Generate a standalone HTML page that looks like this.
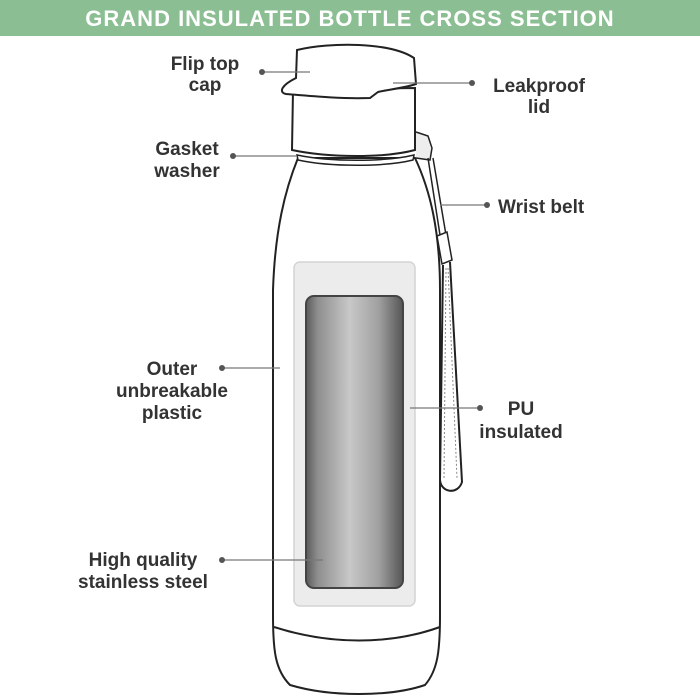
<!DOCTYPE html>
<html><head><meta charset="utf-8"><style>
body{margin:0;background:#fff}
svg{display:block}
text{font-family:"Liberation Sans",sans-serif;font-weight:bold;fill:#333;font-size:19px}
</style></head><body>
<svg width="700" height="700" viewBox="0 0 700 700">
<defs>
<linearGradient id="st" x1="0" x2="1">
<stop offset="0" stop-color="#5a5a5a"/><stop offset="0.12" stop-color="#8e8e8e"/><stop offset="0.45" stop-color="#c8c8c8"/><stop offset="0.75" stop-color="#a0a0a0"/><stop offset="1" stop-color="#555"/>
</linearGradient>
</defs>
<rect x="0" y="0" width="700" height="36" fill="#8bbf93"/>
<text x="350" y="26" text-anchor="middle" style="fill:#fff;font-size:22px;letter-spacing:1px">GRAND INSULATED BOTTLE CROSS SECTION</text>

<g fill="none" stroke="#222" stroke-width="2">
<path d="M298 158 C285 190 275 230 273 290 L273 615 C273 650 275 670 290 685 C330 697 390 697 425 685 C438 670 440 650 440 615 L440 290 C440 230 430 190 415 158 Z" fill="#fff"/>
<path d="M274 627 C330 645 390 645 440 627"/>
<path d="M297 155 C330 162 385 162 414 155 L413 160 C385 167 330 167 298 160 Z" fill="#fff" stroke-width="1.5"/>
<path d="M293 90 L292 150 C330 158 385 158 415 150 L415 88 Z" fill="#fff"/>
<path d="M297 50 C330 42 390 42 414 58 L416 84 C405 88 385 90 378 92 L370 98 C340 99 310 96 286 94 C278 92 282 85 296 78 Z" fill="#fff"/>
<path d="M416 132 L428 136 L432 148 L430 160 L416 158" fill="#eee" stroke-width="1.5"/>
<path d="M428 158 L440 235 M433 158 L446 235" stroke-width="1.5"/>
<path d="M437 236 L447 232 L452 260 L442 264 Z" fill="#fff" stroke-width="1.5"/>
<path d="M443 265 L440 480 C441 493 458 495 462 482 L450 262" stroke-width="2"/>
<path d="M446 268 L444 478 M448 268 L457 478" stroke="#888" stroke-width="1" stroke-dasharray="2 2"/>
</g>

<rect x="294" y="262" width="121" height="344" rx="6" fill="#ececec" stroke="#d4d4d4" stroke-width="1.5"/>
<rect x="306" y="296" width="97" height="292" rx="8" fill="url(#st)" stroke="#444" stroke-width="2"/>

<g stroke="#777" stroke-width="1.2" fill="#555">
<line x1="262" y1="72" x2="310" y2="72"/><circle cx="262" cy="72" r="3" stroke="none"/>
<line x1="393" y1="83" x2="472" y2="83"/><circle cx="472" cy="83" r="3" stroke="none"/>
<line x1="233" y1="156" x2="296" y2="156"/><circle cx="233" cy="156" r="3" stroke="none"/>
<line x1="440" y1="205" x2="487" y2="205"/><circle cx="487" cy="205" r="3" stroke="none"/>
<line x1="222" y1="368" x2="280" y2="368"/><circle cx="222" cy="368" r="3" stroke="none"/>
<line x1="410" y1="408" x2="480" y2="408"/><circle cx="480" cy="408" r="3" stroke="none"/>
<line x1="222" y1="560" x2="323" y2="560"/><circle cx="222" cy="560" r="3" stroke="none"/>
</g>

<text x="205" y="70" text-anchor="middle">Flip top</text>
<text x="205" y="91" text-anchor="middle">cap</text>
<text x="539" y="92" text-anchor="middle">Leakproof</text>
<text x="539" y="113" text-anchor="middle">lid</text>
<text x="187" y="155" text-anchor="middle">Gasket</text>
<text x="187" y="177" text-anchor="middle">washer</text>
<text x="498" y="213">Wrist belt</text>
<text x="172" y="375" text-anchor="middle">Outer</text>
<text x="172" y="397" text-anchor="middle">unbreakable</text>
<text x="172" y="419" text-anchor="middle">plastic</text>
<text x="521" y="415" text-anchor="middle">PU</text>
<text x="521" y="438" text-anchor="middle">insulated</text>
<text x="143" y="566" text-anchor="middle">High quality</text>
<text x="143" y="588" text-anchor="middle">stainless steel</text>
</svg>
</body></html>
